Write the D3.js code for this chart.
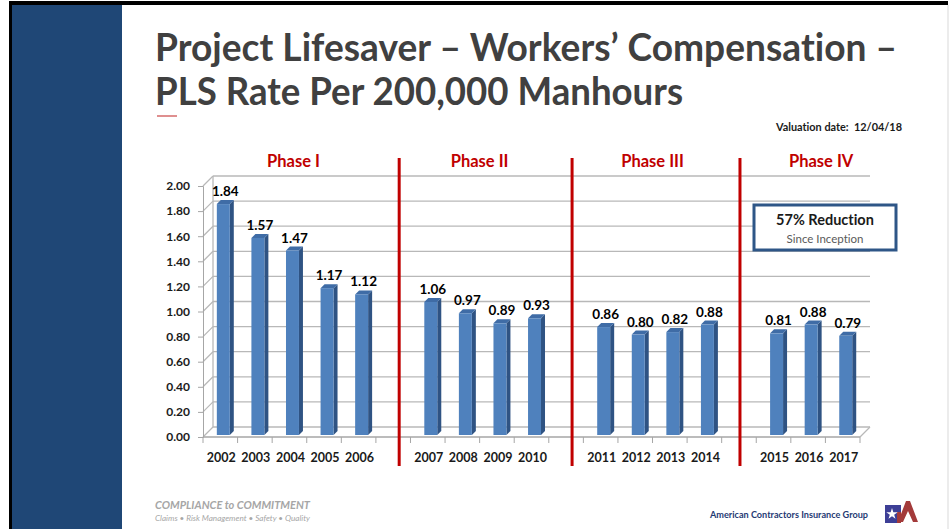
<!DOCTYPE html>
<html><head><meta charset="utf-8">
<script src="https://cdn.jsdelivr.net/npm/d3@7"></script>
<style>
html,body{margin:0;padding:0;background:#fff;}
svg{display:block;font-family:Lato,"Open Sans",sans-serif;font-variant-ligatures:none;font-feature-settings:"liga" 0,"clig" 0;}
</style></head>
<body>
<svg id="c" width="949" height="529"></svg>
<script>
// ---- data ----
const phases = ["Phase I", "Phase II", "Phase III", "Phase IV"];
const years = ["2002","2003","2004","2005","2006","2007","2008","2009","2010","2011","2012","2013","2014","2015","2016","2017"];
const rates = [1.84,1.57,1.47,1.17,1.12,1.06,0.97,0.89,0.93,0.86,0.80,0.82,0.88,0.81,0.88,0.79];
const yearPhase = [0,0,0,0,0,1,1,1,1,2,2,2,2,3,3,3];
const yTicks = [0,0.2,0.4,0.6,0.8,1.0,1.2,1.4,1.6,1.8,2.0];
const titleLines = ["Project Lifesaver \u2013 Workers\u2019 Compensation \u2013", "PLS Rate Per 200,000 Manhours"];
const valuationText = "Valuation date:\u00a0\u00a012/04/18";
const boxTitle = "57% Reduction";
const boxSub = "Since Inception";

// ---- build category domain with gaps between phases ----
const domain = [];
phases.forEach((p, i) => {
  years.forEach((y, j) => { if (yearPhase[j] === i) domain.push(y); });
  if (i < phases.length - 1) domain.push("gap" + i);
});

const svg = d3.select("#c");

// frame
svg.append("rect").attr("x", 9).attr("y", 1).attr("width", 939).attr("height", 4).attr("fill", "#000");
svg.append("rect").attr("x", 9).attr("y", 1).attr("width", 3).attr("height", 528).attr("fill", "#000");
svg.append("rect").attr("x", 12).attr("y", 5).attr("width", 110).attr("height", 524).attr("fill", "#1f4776");
svg.append("line").attr("x1", 948).attr("x2", 948).attr("y1", 5).attr("y2", 529).attr("stroke", "#d9d9d9");

// title
const title = svg.append("g").attr("fill", "#404040").attr("font-weight", 700).attr("font-size", 39);
title.append("text").attr("x", 155).attr("y", 61).attr("textLength", 742).attr("lengthAdjust", "spacingAndGlyphs").text(titleLines[0]);
title.append("text").attr("x", 155).attr("y", 105).attr("textLength", 528).attr("lengthAdjust", "spacingAndGlyphs").text(titleLines[1]);
svg.append("line").attr("x1", 157).attr("x2", 177).attr("y1", 116).attr("y2", 116).attr("stroke", "#d46a6a").attr("stroke-width", 1.5);

svg.append("text").attr("x", 776).attr("y", 131)
  .attr("font-size", 10.5).attr("font-weight", 700).attr("fill", "#1a1a1a")
  .attr("textLength", 126).attr("lengthAdjust", "spacingAndGlyphs").text(valuationText);

// scales
const x = d3.scaleBand().domain(domain).range([203, 860]).padding(0);
const y = d3.scaleLinear().domain([0, 2]).range([437, 186]);
const bw = x.bandwidth();
const DX = 10, DY = -10; // wall depth

const grid = svg.append("g").attr("stroke", "#b8b8b8").attr("stroke-width", 1.3).attr("fill", "none");
// back wall gridlines
yTicks.forEach(t => {
  grid.append("line").attr("x1", 203).attr("y1", y(t)).attr("x2", 203 + DX).attr("y2", y(t) + DY);
  grid.append("line").attr("x1", 203 + DX).attr("y1", y(t) + DY).attr("x2", 860 + DX).attr("y2", y(t) + DY);
});
grid.append("line").attr("x1", 203 + DX).attr("x2", 203 + DX).attr("y1", y(0) + DY).attr("y2", y(2) + DY);
// floor front edge & right diagonal
grid.append("line").attr("x1", 203).attr("x2", 860).attr("y1", y(0)).attr("y2", y(0)).attr("stroke", "#a6a6a6");
grid.append("line").attr("x1", 860).attr("y1", y(0)).attr("x2", 860 + DX).attr("y2", y(0) + DY);

// y axis
const yAxis = d3.axisLeft(y).tickValues(yTicks).tickFormat(d3.format(".2f")).tickSize(5).tickPadding(8);
const ya = svg.append("g").attr("transform", "translate(203,0)").call(yAxis);
ya.select(".domain").attr("stroke", "#a6a6a6");
ya.selectAll(".tick line").attr("stroke", "#a6a6a6");
ya.selectAll(".tick text").attr("font-family", "Lato, sans-serif").attr("font-size", 12).attr("font-weight", 700).attr("fill", "#1a1a1a");

// x axis (category boundaries as ticks)
const bounds = domain.map(d => x(d)).concat([860]);
const xa = svg.append("g");
xa.selectAll("line.tk").data(bounds).join("line").attr("class", "tk")
  .attr("x1", d => d).attr("x2", d => d).attr("y1", y(0)).attr("y2", y(0) + 6).attr("stroke", "#a6a6a6");
xa.selectAll("text").data(years).join("text")
  .attr("x", d => x(d) + bw / 2 + 1).attr("y", 462).attr("text-anchor", "middle")
  .attr("font-size", 12.5).attr("font-weight", 700).attr("fill", "#1a1a1a").text(d => d);

// bars (3D-ish)
const bx0 = bw * 0.40, bW = bw * 0.375, bd = 4;
const bars = svg.append("g");
years.forEach((yr, i) => {
  const x0 = x(yr) + bx0, x1 = x0 + bW;
  const yb = y(0) - 2, yt = y(rates[i]) - 2;
  bars.append("path").attr("d", `M${x1},${yt}L${x1 + bd},${yt - bd}L${x1 + bd},${yb - bd}L${x1},${yb}Z`).attr("fill", "#2f5383");
  bars.append("path").attr("d", `M${x0},${yt}L${x0 + bd},${yt - bd}L${x1 + bd},${yt - bd}L${x1},${yt}Z`).attr("fill", "#3f6ca6");
  bars.append("rect").attr("x", x0).attr("y", yt).attr("width", bW).attr("height", yb - yt).attr("fill", "#4f81bd");
  bars.append("text").attr("x", x0 + (bW + bd) / 2).attr("y", yt - 8).attr("text-anchor", "middle")
    .attr("font-size", 13.5).attr("font-weight", 700).attr("fill", "#000").text(rates[i].toFixed(2));
});

// phase separators
const sepDx = [6, 6, 1];
domain.filter(d => d.startsWith("gap")).forEach((g, i) => {
  const cx = x(g) + bw / 2 + sepDx[i];
  svg.append("line").attr("x1", cx).attr("x2", cx).attr("y1", 158).attr("y2", 466)
    .attr("stroke", "#c00000").attr("stroke-width", 3);
});

// phase labels
const phaseDx = [4, 0, 0, 13];
phases.forEach((p, i) => {
  const ys = years.filter((_, j) => yearPhase[j] === i);
  const cx = (x(ys[0]) + x(ys[ys.length - 1]) + bw) / 2 + phaseDx[i];
  svg.append("text").attr("x", cx).attr("y", 167).attr("text-anchor", "middle")
    .attr("font-size", 16.5).attr("font-weight", 700).attr("fill", "#c00000").text(p);
});

// reduction box
svg.append("rect").attr("x", 754).attr("y", 205).attr("width", 142).attr("height", 45)
  .attr("fill", "#fff").attr("stroke", "#2e5687").attr("stroke-width", 3);
svg.append("text").attr("x", 825).attr("y", 225).attr("text-anchor", "middle")
  .attr("font-size", 14.5).attr("font-weight", 700).attr("fill", "#1a1a1a").text(boxTitle);
svg.append("text").attr("x", 825).attr("y", 243).attr("text-anchor", "middle")
  .attr("font-size", 11.5).attr("fill", "#595959").text(boxSub);

// footer
svg.append("text").attr("x", 155).attr("y", 509).attr("font-size", 11.5).attr("font-style", "italic")
  .attr("font-weight", 700).attr("fill", "#a6a6a6").attr("textLength", 155).attr("lengthAdjust", "spacingAndGlyphs")
  .text("COMPLIANCE to COMMITMENT");
svg.append("text").attr("x", 155).attr("y", 521).attr("font-size", 7.5).attr("font-style", "italic")
  .attr("fill", "#a6a6a6").attr("textLength", 155).attr("lengthAdjust", "spacingAndGlyphs")
  .text("Claims \u2022 Risk Management \u2022 Safety \u2022 Quality");
svg.append("text").attr("x", 710).attr("y", 518).attr("font-size", 10).attr("font-weight", 700)
  .attr("fill", "#1f3a73").attr("textLength", 158).attr("lengthAdjust", "spacingAndGlyphs")
  .text("American Contractors Insurance Group");

// logo
const logo = svg.append("g");
logo.append("path").attr("d", "M898,522L906,501L910,501L918,522L913,522L908,511L903,522Z").attr("fill", "#a33a3a");
logo.append("rect").attr("x", 885).attr("y", 505).attr("width", 16).attr("height", 18).attr("fill", "#3d3f96");
logo.append("rect").attr("x", 897).attr("y", 512).attr("width", 4).attr("height", 11).attr("fill", "#a33a3a");
const star = d3.symbol().type(d3.symbolStar).size(40);
logo.append("path").attr("d", star()).attr("transform", "translate(892,514)").attr("fill", "#fff");
</script>
</body></html>
